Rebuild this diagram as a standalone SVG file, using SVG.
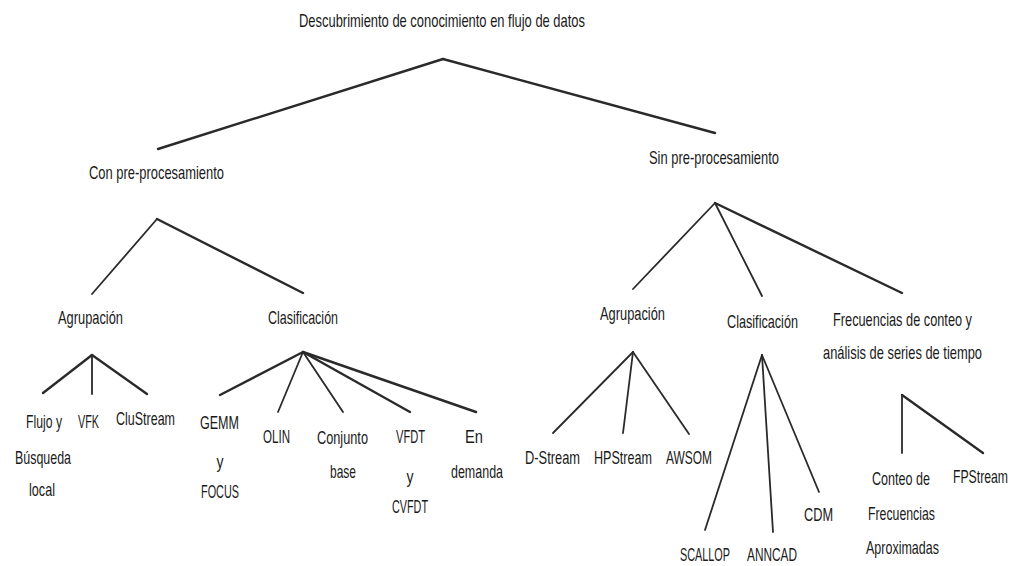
<svg xmlns="http://www.w3.org/2000/svg" width="1015" height="566" viewBox="0 0 1015 566">
<style>
text{font-family:"Liberation Sans","Noto Sans",Arial,sans-serif;font-size:19px;fill:#1a1a1a}
.c line{stroke:#2a2a2a;stroke-width:1.8;stroke-linecap:round}
.c .t{stroke-width:2.4}
</style>
<rect width="1015" height="566" fill="#fff"/>
<g class="c" id="connectors">
<line class="t" x1="443" y1="59" x2="158" y2="149"/>
<line class="t" x1="443" y1="59" x2="715" y2="133"/>
<line x1="157" y1="219" x2="92" y2="294"/>
<line class="t" x1="157" y1="219" x2="303" y2="293"/>
<line x1="715" y1="203" x2="633" y2="289"/>
<line x1="715" y1="203" x2="762" y2="296"/>
<line class="t" x1="715" y1="203" x2="902" y2="293"/>
<line class="t" x1="92" y1="355" x2="43" y2="393"/>
<line x1="92" y1="355" x2="92" y2="394"/>
<line class="t" x1="92" y1="355" x2="147" y2="394"/>
<line class="t" x1="303" y1="352" x2="220" y2="395"/>
<line x1="303" y1="352" x2="278" y2="412"/>
<line x1="303" y1="352" x2="343" y2="412"/>
<line class="t" x1="303" y1="352" x2="410" y2="412"/>
<line class="t" x1="303" y1="352" x2="476" y2="412"/>
<line x1="633" y1="352" x2="553" y2="433"/>
<line x1="633" y1="352" x2="623" y2="433"/>
<line x1="633" y1="352" x2="689" y2="434"/>
<line x1="762" y1="355" x2="705" y2="530"/>
<line x1="762" y1="355" x2="773" y2="532"/>
<line x1="762" y1="355" x2="819" y2="492"/>
<line x1="902" y1="395" x2="902" y2="453"/>
<line class="t" x1="902" y1="395" x2="983" y2="453"/>
</g>
<g id="root"><text x="299" y="27" textLength="286" lengthAdjust="spacingAndGlyphs">Descubrimiento de conocimiento en flujo de datos</text></g>
<g id="con"><text x="89" y="179" textLength="135" lengthAdjust="spacingAndGlyphs">Con pre-procesamiento</text></g>
<g id="sin"><text x="649" y="164" textLength="130" lengthAdjust="spacingAndGlyphs">Sin pre-procesamiento</text></g>
<g id="agrup-con"><text x="58" y="324" textLength="65" lengthAdjust="spacingAndGlyphs">Agrupación</text></g>
<g id="clasif-con"><text x="268" y="324" textLength="70" lengthAdjust="spacingAndGlyphs">Clasificación</text></g>
<g id="agrup-sin"><text x="600" y="320" textLength="65" lengthAdjust="spacingAndGlyphs">Agrupación</text></g>
<g id="clasif-sin"><text x="727" y="328" textLength="71" lengthAdjust="spacingAndGlyphs">Clasificación</text></g>
<g id="frecuencias"><text x="833" y="326" textLength="139" lengthAdjust="spacingAndGlyphs">Frecuencias de conteo y</text><text x="823" y="359" textLength="159" lengthAdjust="spacingAndGlyphs">análisis de series de tiempo</text></g>
<g id="flujo"><text x="26" y="428" textLength="36" lengthAdjust="spacingAndGlyphs">Flujo y</text><text x="15" y="464" textLength="56" lengthAdjust="spacingAndGlyphs">Búsqueda</text><text x="29" y="496" textLength="26" lengthAdjust="spacingAndGlyphs">local</text></g>
<g id="vfk"><text x="78" y="428" textLength="21" lengthAdjust="spacingAndGlyphs">VFK</text></g>
<g id="clustream"><text x="116" y="425" textLength="59" lengthAdjust="spacingAndGlyphs">CluStream</text></g>
<g id="gemm"><text x="200" y="429" textLength="39" lengthAdjust="spacingAndGlyphs">GEMM</text><text x="216.5" y="468" textLength="7" lengthAdjust="spacingAndGlyphs">y</text><text x="201" y="498" textLength="38" lengthAdjust="spacingAndGlyphs">FOCUS</text></g>
<g id="olin"><text x="263" y="443" textLength="27" lengthAdjust="spacingAndGlyphs">OLIN</text></g>
<g id="conjunto"><text x="317" y="444" textLength="51" lengthAdjust="spacingAndGlyphs">Conjunto</text><text x="330" y="478" textLength="26" lengthAdjust="spacingAndGlyphs">base</text></g>
<g id="vfdt"><text x="396" y="443" textLength="29" lengthAdjust="spacingAndGlyphs">VFDT</text><text x="406.5" y="483" textLength="7" lengthAdjust="spacingAndGlyphs">y</text><text x="392" y="513" textLength="36" lengthAdjust="spacingAndGlyphs">CVFDT</text></g>
<g id="endemanda"><text x="465" y="443" textLength="18" lengthAdjust="spacingAndGlyphs">En</text><text x="451" y="478" textLength="52" lengthAdjust="spacingAndGlyphs">demanda</text></g>
<g id="dstream"><text x="525" y="464" textLength="55" lengthAdjust="spacingAndGlyphs">D-Stream</text></g>
<g id="hpstream"><text x="594" y="464" textLength="58" lengthAdjust="spacingAndGlyphs">HPStream</text></g>
<g id="awsom"><text x="666" y="464" textLength="46" lengthAdjust="spacingAndGlyphs">AWSOM</text></g>
<g id="scallop"><text x="680" y="561" textLength="50" lengthAdjust="spacingAndGlyphs">SCALLOP</text></g>
<g id="anncad"><text x="747" y="561" textLength="50" lengthAdjust="spacingAndGlyphs">ANNCAD</text></g>
<g id="cdm"><text x="804" y="521" textLength="29" lengthAdjust="spacingAndGlyphs">CDM</text></g>
<g id="conteo"><text x="872" y="485" textLength="58" lengthAdjust="spacingAndGlyphs">Conteo de</text><text x="868" y="520" textLength="67" lengthAdjust="spacingAndGlyphs">Frecuencias</text><text x="866" y="554" textLength="73" lengthAdjust="spacingAndGlyphs">Aproximadas</text></g>
<g id="fpstream"><text x="953" y="483" textLength="55" lengthAdjust="spacingAndGlyphs">FPStream</text></g>
</svg>
